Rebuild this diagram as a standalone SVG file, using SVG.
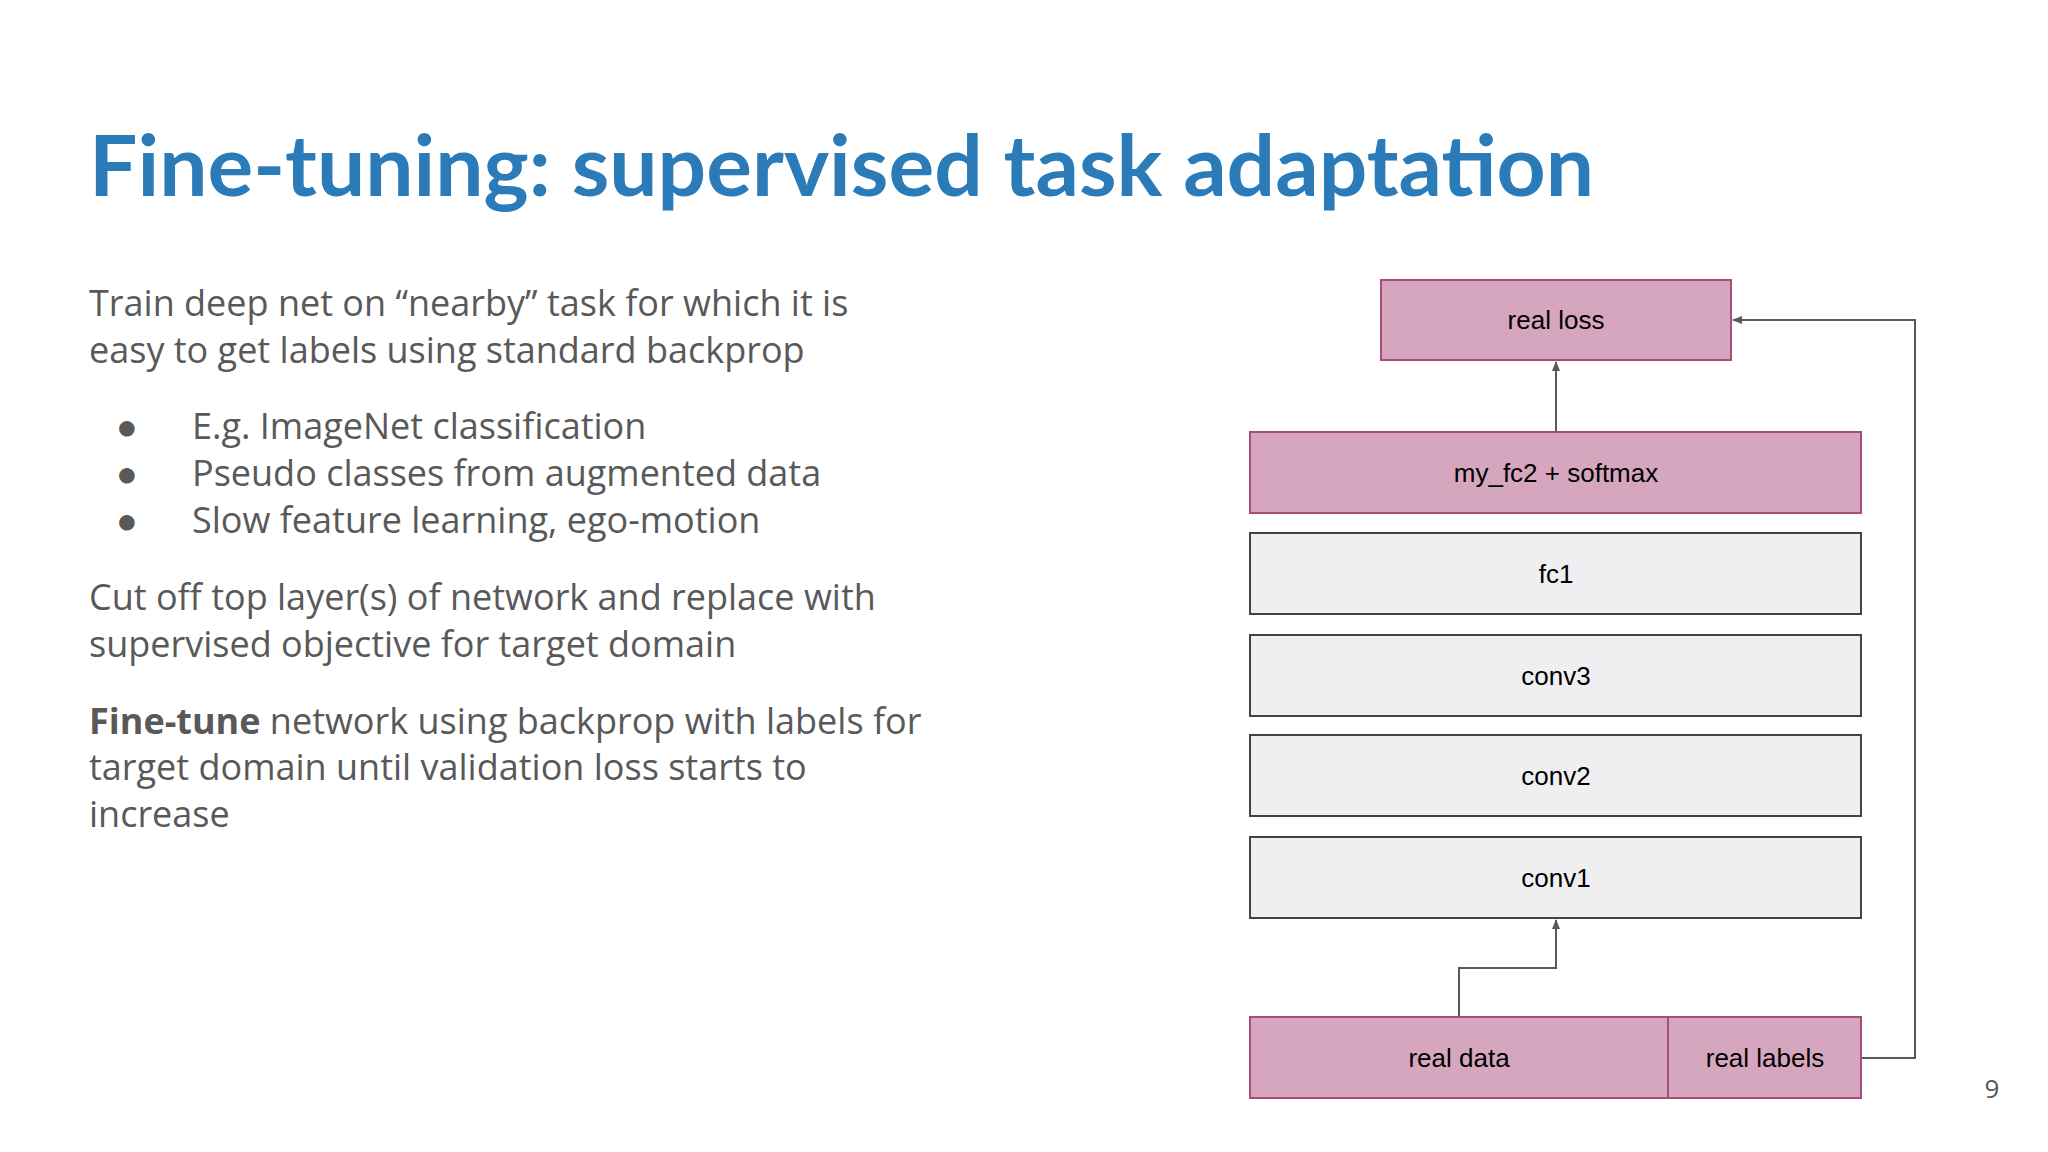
<svg xmlns="http://www.w3.org/2000/svg" width="2048" height="1152" viewBox="0 0 2048 1152">
<defs>
<style>
.t{font-family:"Open Sans","Liberation Sans",sans-serif;font-size:36px;fill:#595959}
.b{font-family:"Liberation Sans",Arial,sans-serif;font-size:26px;fill:#000;text-anchor:middle}
.p{fill:#d5a6bd;stroke:#a64d79;stroke-width:2}
.g{fill:#efeff1;stroke:#434343;stroke-width:2}
.c{fill:none;stroke:#595959;stroke-width:2}
</style>
<marker id="a" viewBox="0 0 10 10" refX="9" refY="5" markerWidth="10" markerHeight="10" orient="auto" markerUnits="userSpaceOnUse"><path d="M0,1L10,5L0,9z" fill="#595959"/></marker>
</defs>
<rect width="2048" height="1152" fill="#fff"/>
<text x="89" y="196" font-family="Lato,'Open Sans',sans-serif" font-weight="bold" font-size="84" fill="#2b7bb9" textLength="1505" lengthAdjust="spacingAndGlyphs">Fine-tuning: supervised task adaptation</text>
<text class="t" x="89" y="316">Train deep net on “nearby” task for which it is</text>
<text class="t" x="89" y="363">easy to get labels using standard backprop</text>
<g class="t"><text x="116" y="439">●</text><text x="116" y="486">●</text><text x="116" y="533">●</text></g>
<text class="t" x="192" y="439">E.g. ImageNet classification</text>
<text class="t" x="192" y="486">Pseudo classes from augmented data</text>
<text class="t" x="192" y="533">Slow feature learning, ego-motion</text>
<text class="t" x="89" y="610">Cut off top layer(s) of network and replace with</text>
<text class="t" x="89" y="657">supervised objective for target domain</text>
<text class="t" x="89" y="734"><tspan font-weight="bold">Fine-tune</tspan> network using backprop with labels for</text>
<text class="t" x="89" y="780">target domain until validation loss starts to</text>
<text class="t" x="89" y="827">increase</text>
<g id="connectors">
<path class="c" d="M1556,432V362" marker-end="url(#a)"/>
<path class="c" d="M1861,1058H1915V320H1733" marker-end="url(#a)"/>
<path class="c" d="M1459,1017V968H1556V920" marker-end="url(#a)"/>
</g>
<g id="real_loss"><rect class="p" x="1381" y="280" width="350" height="80"/><text class="b" x="1556" y="329">real loss</text></g>
<g id="my_fc2"><rect class="p" x="1250" y="432" width="611" height="81"/><text class="b" x="1556" y="482">my_fc2 + softmax</text></g>
<g id="fc1"><rect class="g" x="1250" y="533" width="611" height="81"/><text class="b" x="1556" y="583">fc1</text></g>
<g id="conv3"><rect class="g" x="1250" y="635" width="611" height="81"/><text class="b" x="1556" y="685">conv3</text></g>
<g id="conv2"><rect class="g" x="1250" y="735" width="611" height="81"/><text class="b" x="1556" y="785">conv2</text></g>
<g id="conv1"><rect class="g" x="1250" y="837" width="611" height="81"/><text class="b" x="1556" y="887">conv1</text></g>
<g id="real_data"><rect class="p" x="1250" y="1017" width="418" height="81"/><text class="b" x="1459" y="1067">real data</text></g>
<g id="real_labels"><rect class="p" x="1668" y="1017" width="193" height="81"/><text class="b" x="1765" y="1067">real labels</text></g>
<text x="1992" y="1098" font-family="'Open Sans',sans-serif" font-size="26" fill="#595959" text-anchor="middle">9</text>
</svg>
